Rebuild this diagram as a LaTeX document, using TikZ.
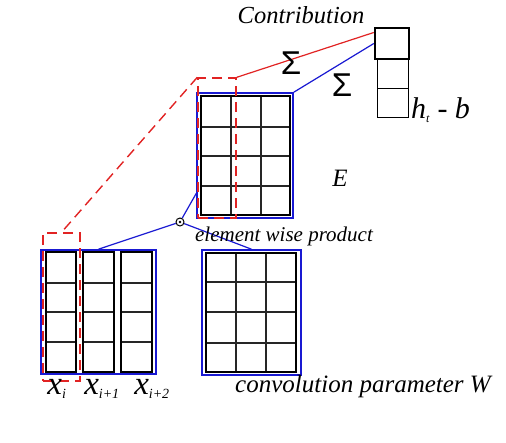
\documentclass[tikz,border=0pt]{standalone}
\usepackage{fontspec}
\setmainfont{Liberation Serif}
\newfontfamily\sumfont{Liberation Sans}
\usetikzlibrary{calc}
\definecolor{myblue}{RGB}{25,25,210}
\definecolor{myred}{RGB}{225,35,35}
\tikzset{
  bluebox/.style={draw=myblue, line width=1.6pt, inner sep=0pt, minimum width=#1},
  reddash/.style={draw=myred, line width=1.4pt, dash pattern=on 10pt off 6pt, inner sep=0pt},
  gridout/.style={draw=black, line width=1.9pt},
  gridin/.style={draw=black!85, line width=1.1pt},
  blueline/.style={draw=myblue, line width=1.2pt},
  redline/.style={draw=myred, line width=1.2pt},
  lbl/.style={inner sep=0pt, font=\itshape},
}
\begin{document}
\begin{tikzpicture}[x=1pt,y=-1pt]
\useasboundingbox (0,0) rectangle (506,442);
% ---- blue frames
\node[bluebox=96, minimum height=125] (Eb) at (245,155.5) {};
\node[bluebox=115, minimum height=124] (Xb) at (98.5,312) {};
\node[bluebox=99, minimum height=125] (Wb) at (251.5,312.5) {};
% ---- E grid
\draw[gridin] \foreach \x in {231,261} {(\x,96)--(\x,215)};
\draw[gridin] \foreach \y in {127,156,186} {(201,\y)--(290,\y)};
\draw[gridout] (201,96) rectangle (290,215);
% ---- W grid
\draw[gridin] \foreach \x in {236,266} {(\x,253)--(\x,372)};
\draw[gridin] \foreach \y in {282,312,343} {(206,\y)--(296,\y)};
\draw[gridout] (206,253) rectangle (296,372);
% ---- X columns
\foreach \a/\b in {46/76,83/114,121/152}{
  \draw[gridin] \foreach \y in {283,312,342} {(\a,\y)--(\b,\y)};
  \draw[gridout] (\a,252) rectangle (\b,372);
}
% ---- h vector
\node[draw, line width=2.4pt, inner sep=0pt, minimum width=34, minimum height=31] (h1) at (392,43.5) {};
\node[draw, line width=1pt, inner sep=0pt, minimum width=31, minimum height=29] (h2) at (392.5,73.5) {};
\node[draw, line width=1pt, inner sep=0pt, minimum width=31, minimum height=29] (h3) at (392.5,102.5) {};
% ---- red dashed boxes
\node[reddash, minimum width=38, minimum height=140] (rE) at (217,148) {};
\node[reddash, minimum width=37, minimum height=148] (rX) at (61.5,307) {};
% ---- odot
\node[circle, draw, line width=1pt, fill=white, inner sep=0pt, minimum size=8] (dot) at (180,222) {};
\fill (dot.center) circle (1.3);
% ---- connectors
\draw[redline] (rE.north east) -- ($(h1.north west)!0.17!(h1.south west)$);
\draw[blueline] (Eb.north east) -- (h1.west);
\draw[reddash] (rE.north west) -- (rX.north);
\draw[blueline] (dot) -- ($(Eb.north west)!0.8!(Eb.south west)$);
\draw[blueline] (dot) -- (Xb.north);
\draw[blueline] (dot) -- (Wb.north);
% ---- labels
\node[lbl, font=\itshape\fontsize{24.5}{24.5}\selectfont] (contr) at (301,15) {Contribution};
\node[inner sep=0pt, font=\sumfont\fontsize{33}{33}\selectfont] (s1) at (291,63) {Σ};
\node[inner sep=0pt, font=\sumfont\fontsize{33}{33}\selectfont] (s2) at (342,85) {Σ};
\node[lbl, anchor=west, font=\itshape\fontsize{30}{30}\selectfont] (hl) at (411,110) {h\textsubscript{\fontsize{12}{12}\selectfont t} - b};
\node[lbl, font=\itshape\fontsize{25}{25}\selectfont] (El) at (340,178) {E};
\node[lbl, font=\itshape\fontsize{21}{21}\selectfont] (ewp) at (284,236) {element wise product};
\node[lbl, font=\itshape\fontsize{25}{25}\selectfont] (cpw) at (363,386) {convolution parameter W};
\node[lbl, font=\itshape\fontsize{33}{33}\selectfont] (x0) at (57,389) {x\textsubscript{\fontsize{14}{14}\selectfont i}};
\node[lbl, font=\itshape\fontsize{33}{33}\selectfont] (x1) at (102,389) {x\textsubscript{\fontsize{14}{14}\selectfont i+1}};
\node[lbl, font=\itshape\fontsize{33}{33}\selectfont] (x2) at (152,389) {x\textsubscript{\fontsize{14}{14}\selectfont i+2}};
\end{tikzpicture}
\end{document}
